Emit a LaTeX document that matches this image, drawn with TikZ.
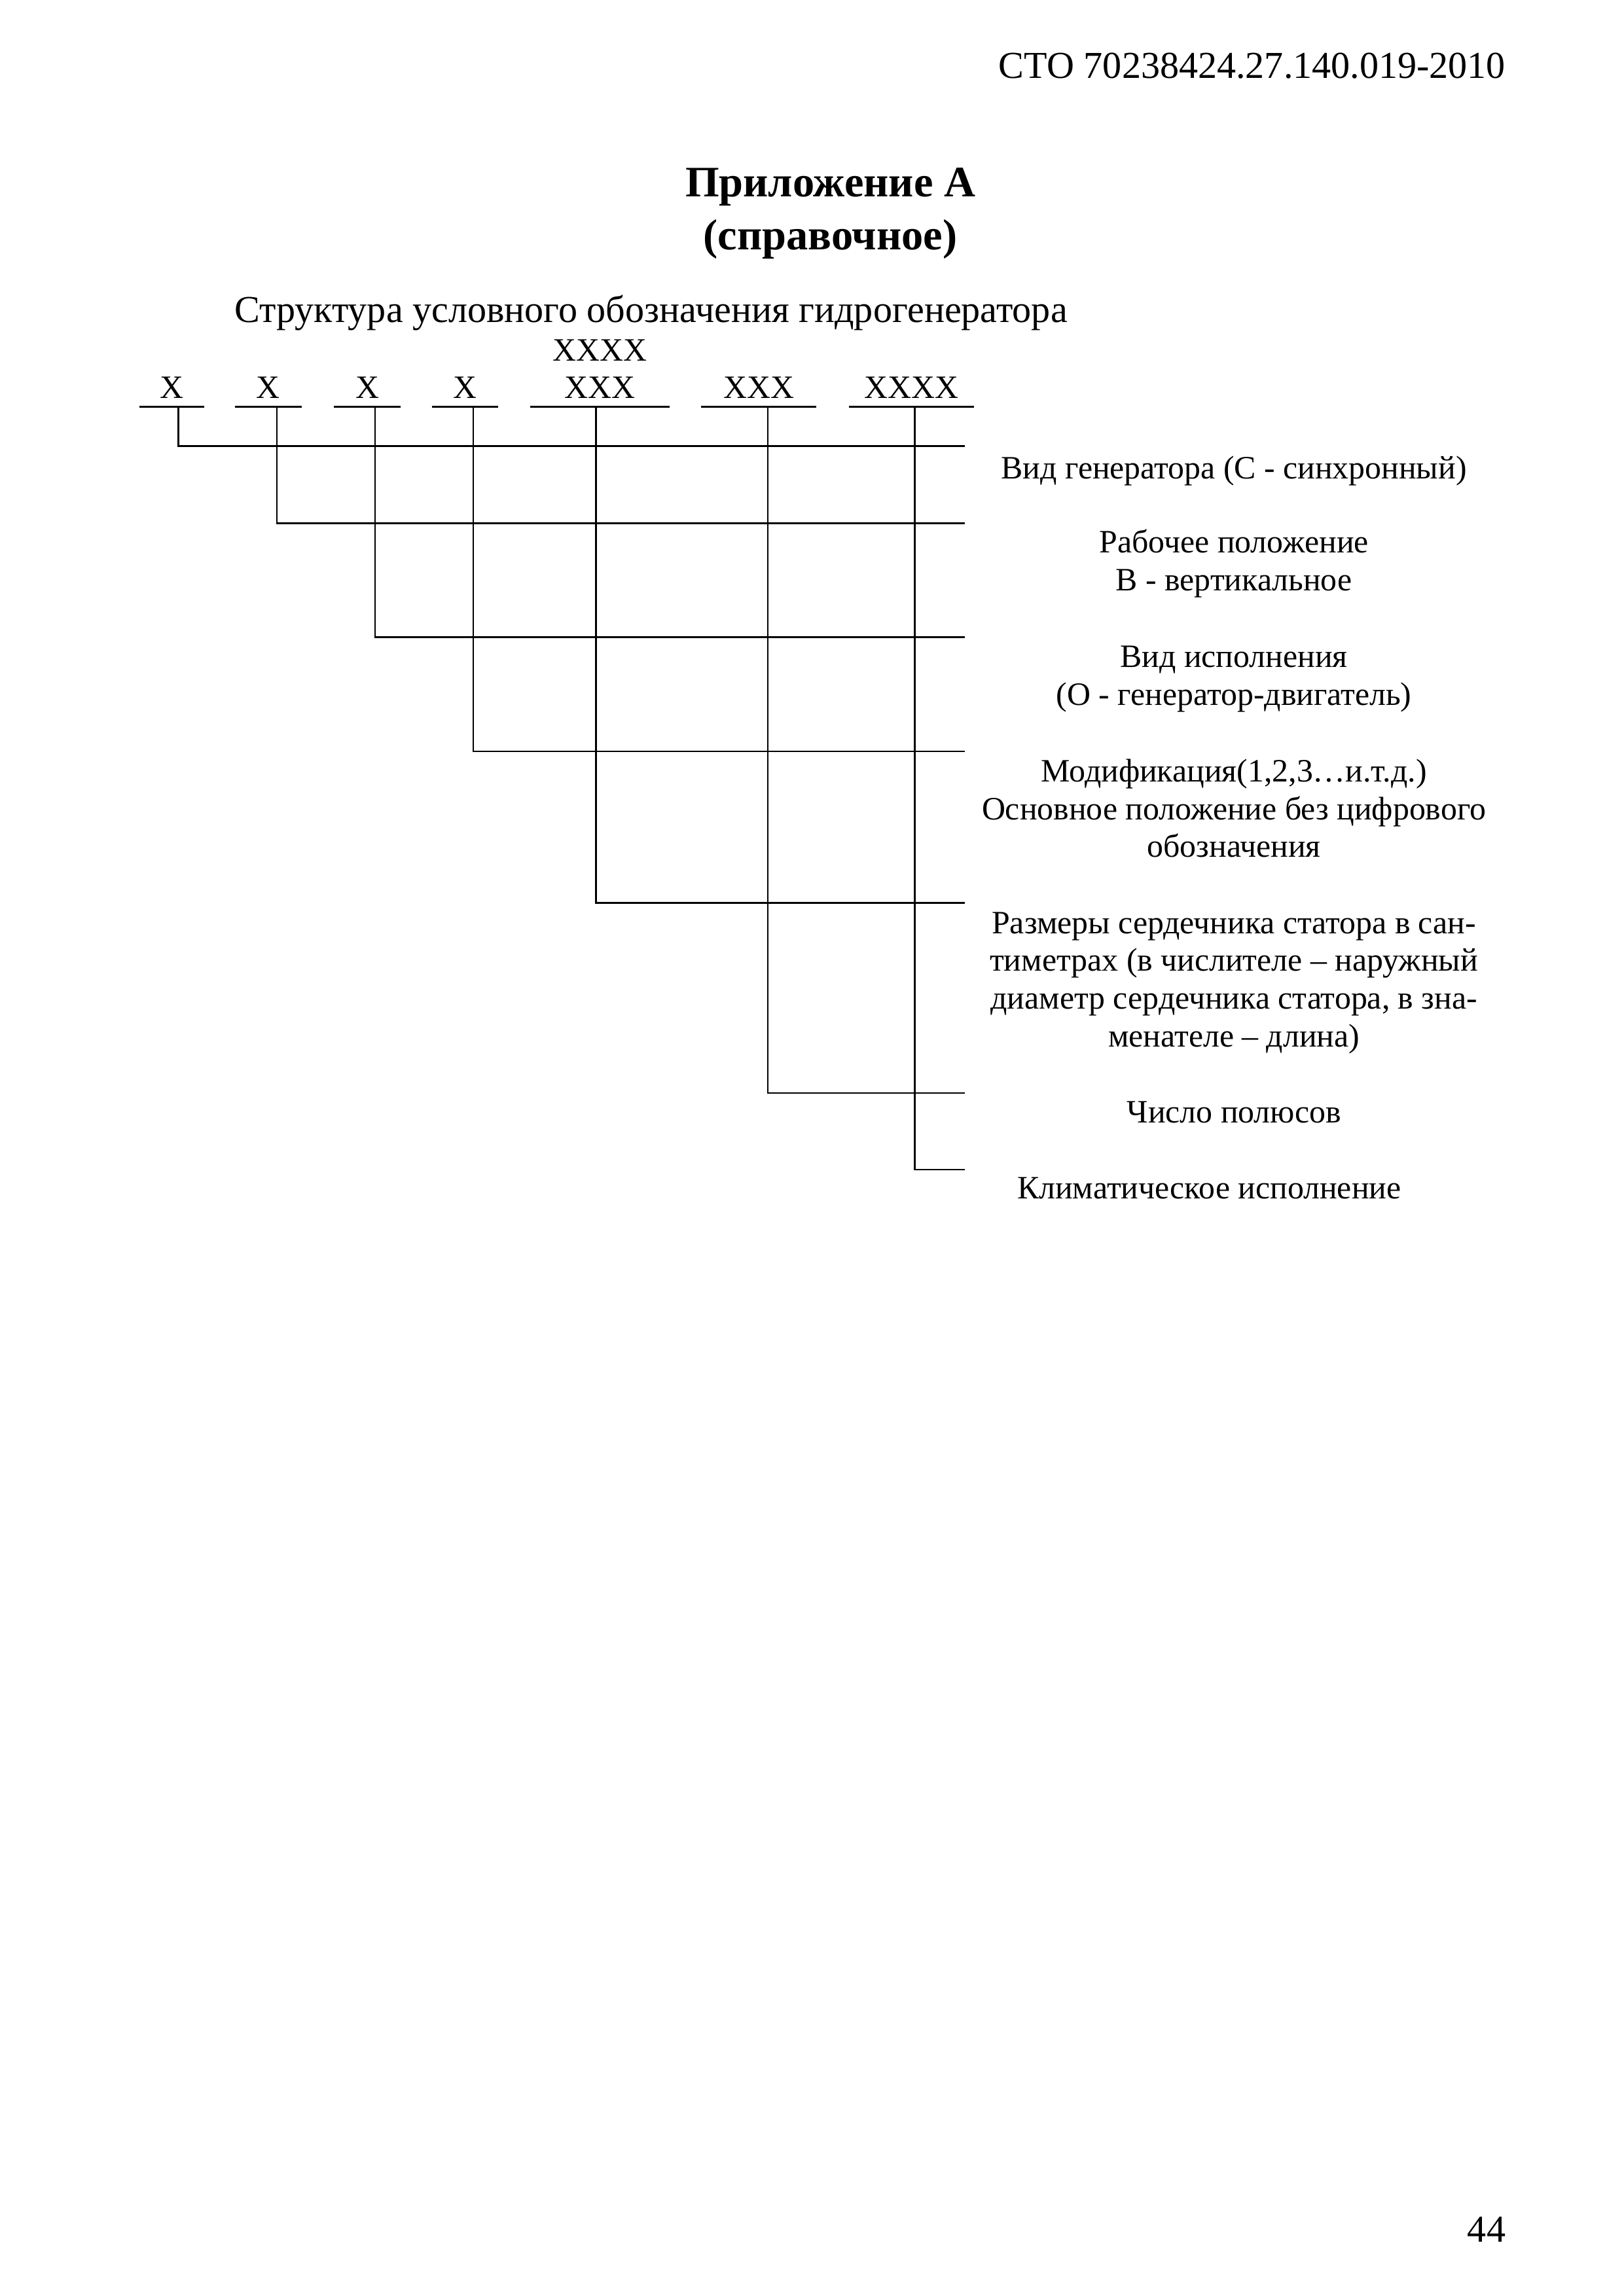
\documentclass[tikz,border=0pt]{standalone}
\usepackage{fontspec}
\setmainfont{Liberation Serif}
\usetikzlibrary{positioning}
\tikzset{
  lbl/.style={anchor=base,inner sep=0pt,font=\fontsize{12}{13.9}\selectfont},
  desc/.style={anchor=base,inner sep=0pt,align=center,
               font=\fontsize{12}{13.9}\selectfont},
  bar/.style={line width=0.75pt},
  link/.style={line width=0.65pt},
}

\begin{document}
\begin{tikzpicture}

  \useasboundingbox[fill=white] (0,0) rectangle (21,29.7);

  % page header and title
  \node[anchor=base east,inner sep=0pt,font=\fontsize{14}{16}\selectfont]
    (head) at (19.48,28.69) {СТО 70238424.27.140.019-2010};
  \node[anchor=base,inner sep=0pt,align=center,
        font=\fontsize{16}{19.4}\selectfont\bfseries]
    (app) at (10.74,26.47) {Приложение А\\(справочное)};
  \node[anchor=base,inner sep=0pt,font=\fontsize{14}{16}\selectfont]
    (title) at (8.42,25.53) {Структура условного обозначения гидрогенератора};

  % code groups
  \node[lbl] (num) at (7.76,25.03) {XXXX};
  \node[lbl] (g1) at (2.22,24.545)  {X};
  \node[lbl] (g2) at (3.47,24.545)  {X};
  \node[lbl] (g3) at (4.75,24.545)  {X};
  \node[lbl] (g4) at (6.015,24.545) {X};
  \node[lbl] (g5) at (7.76,24.545)  {XXX};
  \node[lbl] (g6) at (9.815,24.545) {XXX};
  \node[lbl] (g7) at (11.79,24.545) {XXXX};

  \draw[bar] (1.80,24.435) -- (2.64,24.435);
  \draw[bar] (3.04,24.435) -- (3.90,24.435);
  \draw[bar] (4.32,24.435) -- (5.18,24.435);
  \draw[bar] (5.59,24.435) -- (6.44,24.435);
  \draw[bar] (6.86,24.435) -- (8.66,24.435);
  \draw[bar] (9.07,24.435) -- (10.56,24.435);
  \draw[bar] (10.98,24.435) -- (12.60,24.435);

  % taps on the bars and ends of the leaders
  \coordinate (v1) at (2.31,24.435);
  \coordinate (v2) at (3.58,24.435);
  \coordinate (v3) at (4.85,24.435);
  \coordinate (v4) at (6.12,24.435);
  \coordinate (v5) at (7.71,24.435);
  \coordinate (v6) at (9.93,24.435);
  \coordinate (v7) at (11.83,24.435);

  \coordinate (e1) at (12.48,23.93);
  \coordinate (e2) at (12.48,22.93);
  \coordinate (e3) at (12.48,21.46);
  \coordinate (e4) at (12.48,19.98);
  \coordinate (e5) at (12.48,18.02);
  \coordinate (e6) at (12.48,15.56);
  \coordinate (e7) at (12.48,14.57);

  \draw[link] (v1) |- (e1);
  \draw[link] (v2) |- (e2);
  \draw[link] (v3) |- (e3);
  \draw[link] (v4) |- (e4);
  \draw[link] (v5) |- (e5);
  \draw[link] (v6) |- (e6);
  \draw[link] (v7) |- (e7);

  % descriptions (base = last line)
  \node[desc] (d1) at (15.96,23.51) {Вид генератора (С - синхронный)};
  \node[desc] (d2) at (15.96,22.06) {Рабочее положение\\В - вертикальное};
  \node[desc] (d3) at (15.96,20.58) {Вид исполнения\\(О - генератор-двигатель)};
  \node[desc] (d4) at (15.96,18.61)
    {Модификация(1,2,3…и.т.д.)\\Основное положение без цифрового\\обозначения};
  \node[desc] (d5) at (15.96,16.16)
    {Размеры сердечника статора в сан-\\тиметрах (в числителе – наружный\\
     диаметр сердечника статора, в зна-\\менателе – длина)};
  \node[desc] (d6) at (15.96,15.18) {Число полюсов};
  \node[desc] (d7) at (15.64,14.19) {Климатическое исполнение};

  % page number
  \node[anchor=base east,inner sep=0pt,font=\fontsize{14}{16}\selectfont]
    (page) at (19.48,0.695) {44};

\end{tikzpicture}
\end{document}
